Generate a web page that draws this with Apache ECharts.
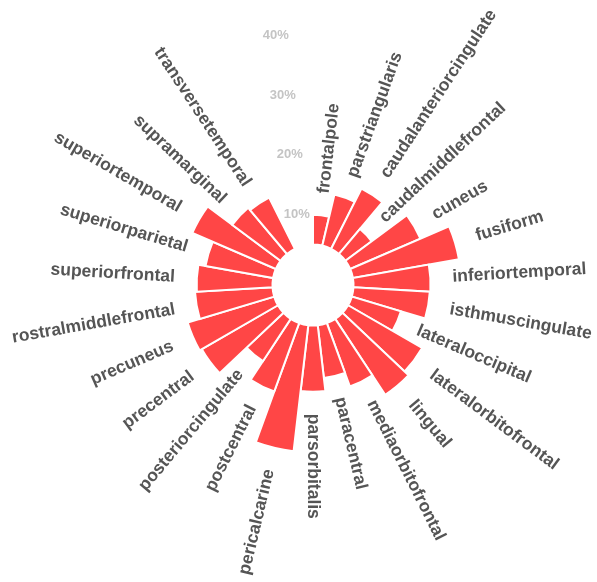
<!DOCTYPE html>
<html><head><meta charset="utf-8">
<script src="https://cdn.jsdelivr.net/npm/echarts@6/dist/echarts.min.js"></script>
<style>html,body{margin:0;padding:0;background:#fff}#c{width:597px;height:582px}</style>
</head><body><div id="c"></div>
<script>
const categories = ['frontalpole','parstriangularis','caudalanteriorcingulate','caudalmiddlefrontal','cuneus','fusiform','inferiortemporal','isthmuscingulate','lateraloccipital','lateralorbitofrontal','lingual','mediaorbitofrontal','paracentral','parsorbitalis','pericalcarine','postcentral','posteriorcingulate','precentral','precuneus','rostralmiddlefrontal','superiorfrontal','superiorparietal','superiortemporal','supramarginal','transversetemporal'];
const values = [9.7,13.5,16.0,10.2,17.5,22.7,17.6,17.5,13.3,19.0,19.9,16.0,13.6,15.8,25.9,16.9,13.2,19.4,19.8,17.7,17.4,16.2,19.9,14.8,14.3];
const radiusTicks = [10,20,30,40];

const blankSlots = 2;
const slots = categories.length + blankSlots;
const slotDeg = 360 / slots;
const rMin = 4.75, rMax = 45;
const center = [313, 285];
const radius = [40.5, 282];

const angleData = categories.concat([' ', '  ']);
const barData = values.map(function (v, i) {
  const th = (i + 0.5) * slotDeg;
  const right = th <= 180.001;
  const deg = right ? 90 - th : 270 - th;
  return {
    value: v,
    label: { rotate: deg * Math.PI / 180, align: right ? 'left' : 'right' }
  };
});

const chart = echarts.init(document.getElementById('c'), null, {renderer: 'canvas'});
chart.setOption({
  animation: false,
  backgroundColor: '#ffffff',
  polar: [{center: center, radius: radius}, {center: center, radius: radius}],
  angleAxis: [
    {polarIndex: 0, type: 'category', data: angleData, startAngle: 90, clockwise: true,
     axisLine: {show: false}, axisTick: {show: false}, axisLabel: {show: false}, splitLine: {show: false}},
    {polarIndex: 1, type: 'value', min: 0, max: 360, startAngle: 90 + slotDeg / 2, show: false}
  ],
  radiusAxis: [
    {polarIndex: 0, type: 'value', min: rMin, max: rMax, show: false},
    {polarIndex: 1, type: 'value', min: rMin, max: rMax, splitNumber: 4,
     axisLine: {show: false}, axisTick: {show: false}, splitLine: {show: false},
     axisLabel: {show: true, margin: 8, align: 'center', color: '#c4c4c4', fontSize: 13, fontWeight: 'bold',
       fontFamily: 'Liberation Sans, Arial, sans-serif',
       formatter: function (v) {
         const r = Math.round(v);
         return (Math.abs(v - r) < 1e-6 && radiusTicks.indexOf(r) >= 0) ? r + '%' : '';
       }}}
  ],
  series: [{
    type: 'bar', coordinateSystem: 'polar', polarIndex: 0,
    data: barData, barCategoryGap: '0%',
    itemStyle: {color: '#ff4646', borderColor: '#ffffff', borderWidth: 2},
    label: {show: true, position: 'end', distance: 22, verticalAlign: 'middle',
      color: '#555555', fontSize: 17.5, fontWeight: 'bold', fontFamily: 'Liberation Sans, Arial, sans-serif',
      formatter: function (p) { return categories[p.dataIndex]; }}
  }]
});
</script>
</body></html>
